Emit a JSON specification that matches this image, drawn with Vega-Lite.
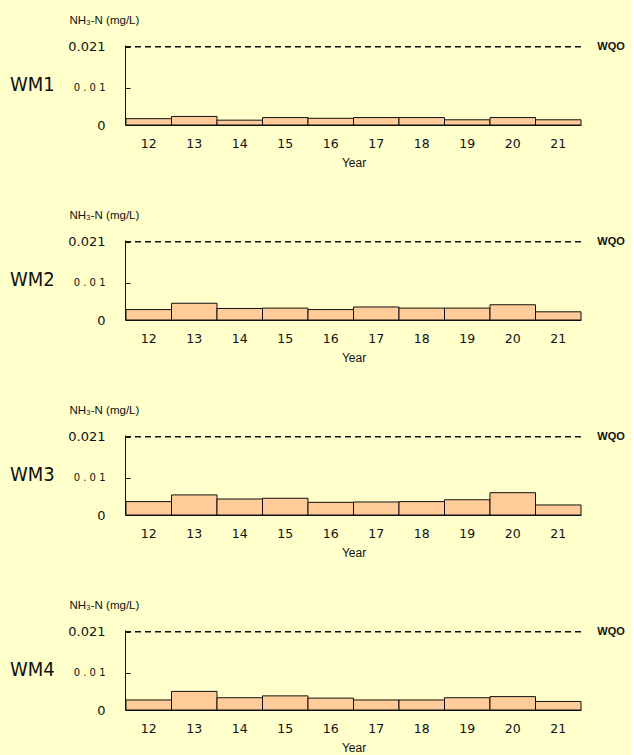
{
  "$schema": "https://vega.github.io/schema/vega-lite/v6.json",
  "background": "#FFFFCC",
  "padding": {"left": 10, "top": 14, "right": 6, "bottom": 2},
  "data": {"values": [
    {"Station": "WM1", "Year": 12, "NH3N": 0.0017},
    {"Station": "WM1", "Year": 13, "NH3N": 0.0023},
    {"Station": "WM1", "Year": 14, "NH3N": 0.0013},
    {"Station": "WM1", "Year": 15, "NH3N": 0.0020},
    {"Station": "WM1", "Year": 16, "NH3N": 0.0018},
    {"Station": "WM1", "Year": 17, "NH3N": 0.0020},
    {"Station": "WM1", "Year": 18, "NH3N": 0.0020},
    {"Station": "WM1", "Year": 19, "NH3N": 0.0014},
    {"Station": "WM1", "Year": 20, "NH3N": 0.0020},
    {"Station": "WM1", "Year": 21, "NH3N": 0.0014},
    {"Station": "WM2", "Year": 12, "NH3N": 0.0028},
    {"Station": "WM2", "Year": 13, "NH3N": 0.0045},
    {"Station": "WM2", "Year": 14, "NH3N": 0.0031},
    {"Station": "WM2", "Year": 15, "NH3N": 0.0032},
    {"Station": "WM2", "Year": 16, "NH3N": 0.0028},
    {"Station": "WM2", "Year": 17, "NH3N": 0.0035},
    {"Station": "WM2", "Year": 18, "NH3N": 0.0032},
    {"Station": "WM2", "Year": 19, "NH3N": 0.0032},
    {"Station": "WM2", "Year": 20, "NH3N": 0.0041},
    {"Station": "WM2", "Year": 21, "NH3N": 0.0022},
    {"Station": "WM3", "Year": 12, "NH3N": 0.0036},
    {"Station": "WM3", "Year": 13, "NH3N": 0.0054},
    {"Station": "WM3", "Year": 14, "NH3N": 0.0043},
    {"Station": "WM3", "Year": 15, "NH3N": 0.0045},
    {"Station": "WM3", "Year": 16, "NH3N": 0.0034},
    {"Station": "WM3", "Year": 17, "NH3N": 0.0035},
    {"Station": "WM3", "Year": 18, "NH3N": 0.0036},
    {"Station": "WM3", "Year": 19, "NH3N": 0.0041},
    {"Station": "WM3", "Year": 20, "NH3N": 0.0060},
    {"Station": "WM3", "Year": 21, "NH3N": 0.0027},
    {"Station": "WM4", "Year": 12, "NH3N": 0.0027},
    {"Station": "WM4", "Year": 13, "NH3N": 0.0050},
    {"Station": "WM4", "Year": 14, "NH3N": 0.0033},
    {"Station": "WM4", "Year": 15, "NH3N": 0.0038},
    {"Station": "WM4", "Year": 16, "NH3N": 0.0032},
    {"Station": "WM4", "Year": 17, "NH3N": 0.0027},
    {"Station": "WM4", "Year": 18, "NH3N": 0.0027},
    {"Station": "WM4", "Year": 19, "NH3N": 0.0033},
    {"Station": "WM4", "Year": 20, "NH3N": 0.0036},
    {"Station": "WM4", "Year": 21, "NH3N": 0.0023}
  ]},
  "facet": {
    "row": {
      "field": "Station",
      "type": "nominal",
      "title": null,
      "header": {
        "labelAngle": 0,
        "labelOrient": "left",
        "labelAlign": "left",
        "labelBaseline": "middle",
        "labelFont": "DejaVu Sans Condensed, Liberation Sans",
        "labelFontSize": 20,
        "labelColor": "#111111",
        "labelPadding": 13
      }
    }
  },
  "spacing": {"row": 66},
  "resolve": {"axis": {"x": "independent"}},
  "spec": {
    "width": 455,
    "height": 80,
    "layer": [
      {
        "mark": {"type": "bar", "fill": "#FFCC99", "stroke": "#111111", "strokeWidth": 1},
        "encoding": {
          "x": {
            "field": "Year",
            "type": "ordinal",
            "scale": {"paddingInner": 0, "paddingOuter": 0},
            "axis": {
              "title": "Year",
              "labelAngle": 0,
              "ticks": false,
              "domain": true,
              "domainColor": "#111111",
              "labelFont": "DejaVu Sans",
              "labelFontSize": 12.5,
              "labelColor": "#111111",
              "labelPadding": 12,
              "titleFont": "Liberation Sans",
              "titleFontSize": 12,
              "titleFontWeight": "normal",
              "titleColor": "#111111",
              "titlePadding": 8
            }
          },
          "y": {
            "field": "NH3N",
            "type": "quantitative",
            "scale": {"domain": [0, 0.0215], "nice": false},
            "axis": {
              "title": "NH₃-N (mg/L)",
              "titleAngle": 0,
              "titleAlign": "left",
              "titleBaseline": "middle",
              "titleX": -56,
              "titleY": -25,
              "titleFont": "Liberation Sans",
              "titleFontSize": 11.5,
              "titleFontWeight": "normal",
              "titleColor": "#111111",
              "values": [0, 0.01, 0.021],
              "tickCount": 5,
              "labelOverlap": false,
              "labelExpr": "datum.value == 0 ? '0' : datum.value < 0.015 ? '0 . 0 1' : '0.021'",
              "labelFont": "DejaVu Sans",
              "labelFontSize": {"condition": {"test": "datum.value > 0.005 && datum.value < 0.015", "value": 10}, "value": 13},
              "labelColor": "#111111",
              "tickSize": -5,
              "tickColor": "#111111",
              "labelPadding": 25,
              "domainColor": "#111111",
              "grid": false
            }
          }
        }
      },
      {
        "transform": [{"filter": "datum.Year == 21"}],
        "mark": {"type": "rule", "strokeDash": [6, 4], "strokeWidth": 1.5, "color": "#111111"},
        "encoding": {"y": {"datum": 0.021}}
      },
      {
        "transform": [{"filter": "datum.Year == 21"}],
        "mark": {"type": "text", "text": "WQO", "align": "left", "baseline": "middle", "dx": 39, "font": "Liberation Sans", "fontSize": 11, "fontWeight": "bold", "color": "#111111"},
        "encoding": {
          "x": {"field": "Year", "type": "ordinal"},
          "y": {"datum": 0.021}
        }
      }
    ]
  },
  "config": {"view": {"stroke": null}}
}
